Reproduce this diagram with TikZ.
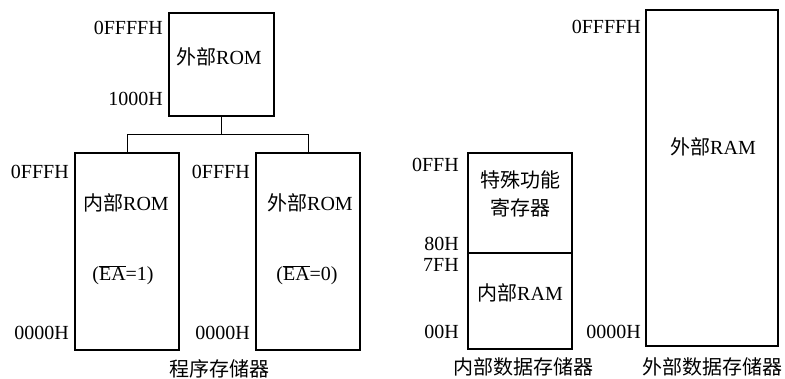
\documentclass[tikz,border=0pt]{standalone}
\usepackage{fontspec}
\setmainfont{Liberation Serif}
\newfontfamily\cjk{Noto Sans CJK SC}
\usetikzlibrary{calc}
\tikzset{
  mem/.style={draw=black, line width=2.2pt, rectangle, inner sep=0pt, anchor=north west},
  addr/.style={anchor=east, inner sep=0pt},
  txt/.style={inner sep=0pt, align=center},
  link/.style={draw=black, line width=1.2pt}
}
\newcommand{\ea}{\ensuremath{\overline{\hbox{EA}}}}
\begin{document}
\begin{tikzpicture}[x=1pt,y=-1pt,font=\fontsize{20}{24}\selectfont]
\useasboundingbox (0,0) rectangle (785,379);
% program memory
\node[mem, minimum width=105pt, minimum height=103pt] (extrom) at (168,12) {};
\node[mem, minimum width=104pt, minimum height=197pt] (introm) at (74,152) {};
\node[mem, minimum width=104pt, minimum height=197pt] (extromb) at (255,152) {};
\node[txt] (t1) at (219,57) {{\cjk 外部}ROM};
\node[txt] (t2) at (126,203) {{\cjk 内部}ROM};
\node[txt] (t3) at (123,275) {(\ea=1)};
\node[txt] (t4) at (310,203) {{\cjk 外部}ROM};
\node[txt] (t5) at (307,275) {(\ea=0)};
\node[addr] (a1) at (163,28) {0FFFFH};
\node[addr] (a2) at (163,99) {1000H};
\node[addr] (a3) at (69,172) {0FFFH};
\node[addr] (a4) at (69,333) {0000H};
\node[addr] (a5) at (250,172) {0FFFH};
\node[addr] (a6) at (250,333) {0000H};
\coordinate (j) at ($(extrom.south)+(0,17)$);
\draw[link] (extrom.south) -- (j);
\draw[link] (j) -| (introm.north);
\draw[link] (j) -| (extromb.north);
\node[txt] (c1) at (219,369) {\cjk 程序存储器};
% internal data memory
\node[mem, minimum width=104pt, minimum height=100pt] (sfr) at (467,152) {};
\node[mem, minimum width=104pt, minimum height=96pt] (iram) at (467,252) {};
\node[txt] (t6) at (520,180) {\cjk 特殊功能};
\node[txt] (t7) at (520,208) {\cjk 寄存器};
\node[txt] (t8) at (520,293) {{\cjk 内部}RAM};
\node[addr] (a7) at (459,165) {0FFH};
\node[addr] (a8) at (459,244) {80H};
\node[addr] (a9) at (459,265) {7FH};
\node[addr] (a10) at (459,332) {00H};
\node[txt] (c2) at (523,367) {\cjk 内部数据存储器};
% external data memory
\node[mem, minimum width=132pt, minimum height=336pt] (xram) at (645,9) {};
\node[txt] (t9) at (713,147) {{\cjk 外部}RAM};
\node[addr] (a11) at (641,27) {0FFFFH};
\node[addr] (a12) at (641,332) {0000H};
\node[txt] (c3) at (712,367) {\cjk 外部数据存储器};
\end{tikzpicture}
\end{document}
